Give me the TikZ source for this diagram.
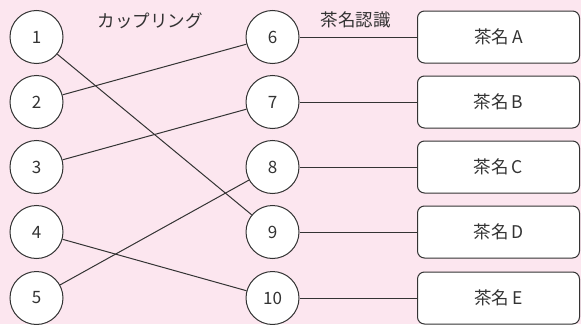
\documentclass[tikz,border=0pt]{standalone}
\usepackage{fontspec}
\setmainfont{Noto Sans CJK JP}
\definecolor{bgpink}{HTML}{FCE6EF}
\definecolor{ink}{HTML}{333333}
\begin{document}
\begin{tikzpicture}[x=1pt,y=-1pt,
  num/.style={circle,draw=ink,fill=white,line width=1pt,minimum size=53pt,inner sep=0pt,text=ink,font=\fontsize{17}{17}\selectfont},
  tea/.style={rectangle,rounded corners=7pt,draw=ink,fill=white,line width=1pt,minimum width=162pt,minimum height=52pt,inner sep=0pt,text=ink,font=\fontsize{17.5}{17.5}\selectfont},
  lbl/.style={text=ink,font=\fontsize{17.5}{17.5}\selectfont,inner sep=0pt},
  link/.style={draw=ink,line width=1pt}]
\fill[bgpink] (0,0) rectangle (581,324);
\useasboundingbox (0,0) rectangle (581,324);
\foreach \i/\y in {1/37,2/102,3/167,4/232,5/298}{
  \node[num] (L\i) at (36.5,\y) {\i};
}
\foreach \i/\y in {6/37,7/102,8/167,9/232,10/298}{
  \node[num] (R\i) at (272.5,\y) {\i};
}
\foreach \t/\y in {A/37,B/102,C/167,D/232,E/298}{
  \node[tea] (T\t) at (498.5,\y) {茶名\,\t};
}
\node[lbl] (k) at (150,21) {カップリング};
\node[lbl] (c) at (355.5,20) {茶名認識};
\draw[link] (L1) -- (R9);
\draw[link] (L2) -- (R6);
\draw[link] (L3) -- (R7);
\draw[link] (L4) -- (R10);
\draw[link] (L5) -- (R8);
\draw[link] (R6) -- (TA);
\draw[link] (R7) -- (TB);
\draw[link] (R8) -- (TC);
\draw[link] (R9) -- (TD);
\draw[link] (R10) -- (TE);
\end{tikzpicture}
\end{document}
